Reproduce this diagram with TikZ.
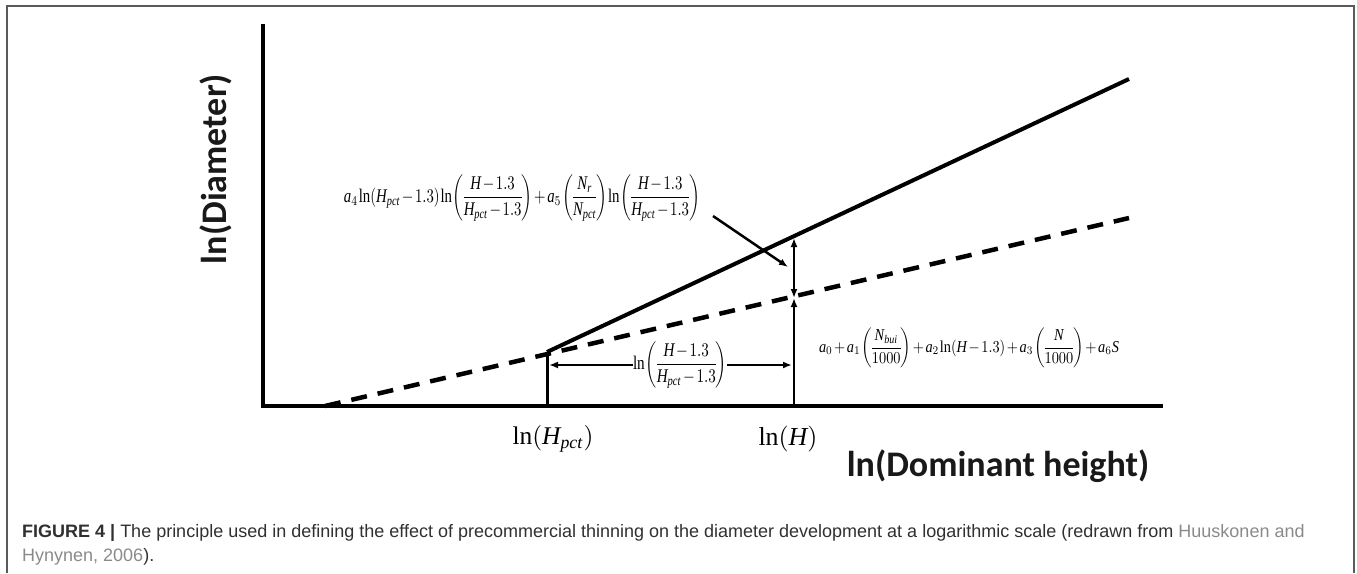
\documentclass[tikz,border=0pt]{standalone}
\usepackage{amsmath}
\usepackage{fontspec}
\setmainfont{Liberation Serif}
\usetikzlibrary{arrows.meta}
\newfontfamily\labfont{Carlito}
\newfontfamily\capfont{Liberation Sans}
\definecolor{framegray}{HTML}{5A5A5A}
\definecolor{captext}{HTML}{303030}
\definecolor{linkgray}{HTML}{8A8A8A}
\newcommand\vi[1]{\mathit{#1}}
\newcommand\tightmath{\thinmuskip=1mu\medmuskip=2mu plus 1mu\thickmuskip=3mu\nulldelimiterspace=0pt}
\tikzset{
  axisline/.style={line width=4pt, line join=miter},
  solidline/.style={line width=4pt},
  dashline/.style={line width=4.5pt, dash pattern=on 16pt off 11pt},
  guide/.style={line width=3pt},
  arr/.style={line width=2.5pt, -{Latex[length=9pt,width=7pt]}},
  darr/.style={line width=2.5pt, {Latex[length=9pt,width=7pt]}-{Latex[length=9pt,width=7pt]}},
  lab/.style={font=\labfont\bfseries\fontsize{36}{36}\selectfont, inner sep=0pt, text=black!90},
  eq/.style={inner sep=0pt},
  captionstyle/.style={font=\capfont\fontsize{18}{18}\selectfont, inner sep=0pt, text=captext}
}
\begin{document}
\begin{tikzpicture}[x=1pt,y=-1pt]
\useasboundingbox (0,0) rectangle (1357,573);
% frame
\draw[framegray, line width=1.5pt] (7,573) -- (7,6) -- (1354,6) -- (1354,573);
% coordinates
\coordinate (ytop) at (263,24);
\coordinate (O) at (263,406);
\coordinate (xend) at (1163,406);
\coordinate (dstart) at (325,406);
\coordinate (dend) at (1129,218);
\coordinate (sstart) at (547,352);
\coordinate (send) at (1129,79);
\coordinate (pctbase) at (547,406);
\coordinate (Hbase) at (794,406);
\coordinate (Hdash) at (794,298);
\coordinate (Hsolid) at (794,238);
\coordinate (diagstart) at (713,216);
\coordinate (diagend) at (788,267);
% axes
\draw[axisline] (ytop) -- (O) -- (xend);
% lines
\draw[dashline] (dstart) -- (dend);
\draw[solidline] (sstart) -- (send);
\draw[guide] (pctbase) -- (sstart);
% labels
\node[lab, rotate=90] (ylab) at (216,169) {ln(Diameter)};
\node[lab] (xlab) at (998,466) {ln(Dominant height)};
\node[eq] (lnpct) at (553,439) {\resizebox{81pt}{!}{$\ln(\vi{H}_{\vi{pct}})$}};
\node[eq] (lnH) at (788,439) {\resizebox{59pt}{!}{$\ln(\vi{H})$}};
% formulas
\node[eq] (f1) at (522,198) {\resizebox*{356pt}{47pt}{\tightmath$\vi{a}_4\ln(\vi{H}_{\vi{pct}}-1.3)\ln\left(\dfrac{\vi{H}-1.3}{\vi{H}_{\vi{pct}}-1.3}\right)+\vi{a}_5\left(\dfrac{\vi{N}_{\vi{r}}}{\vi{N}_{\vi{pct}}}\right)\ln\left(\dfrac{\vi{H}-1.3}{\vi{H}_{\vi{pct}}-1.3}\right)$}};
\node[eq] (f2) at (969,348) {\resizebox*{300pt}{40pt}{\tightmath$\vi{a}_0+\vi{a}_1\left(\dfrac{\vi{N}_{\vi{bui}}}{1000}\right)+\vi{a}_2\ln(\vi{H}-1.3)+\vi{a}_3\left(\dfrac{\vi{N}}{1000}\right)+\vi{a}_6\vi{S}$}};
\node[eq] (lnfrac) at (680,365) {\resizebox*{94pt}{47pt}{\tightmath$\ln\left(\dfrac{\vi{H}-1.3}{\vi{H}_{\vi{pct}}-1.3}\right)$}};
% arrows
\draw[arr] (lnfrac.west) -- ([xshift=2pt]lnfrac.west -| pctbase);
\draw[arr] (lnfrac.east) -- ([xshift=-2pt]lnfrac.east -| Hbase);
\draw[arr] (Hbase) -- (Hdash);
\draw[darr] (Hdash) -- (Hsolid);
\draw[arr] (diagstart) -- (diagend);
% caption
\node[captionstyle, anchor=base west] (cap1) at (22,537) {\textbf{FIGURE 4 |} The principle used in defining the effect of precommercial thinning on the diameter development at a logarithmic scale (redrawn from \textcolor{linkgray}{Huuskonen and}};
\node[captionstyle, anchor=base west] (cap2) at (22,561) {\textcolor{linkgray}{Hynynen, 2006}).};
\end{tikzpicture}
\end{document}
